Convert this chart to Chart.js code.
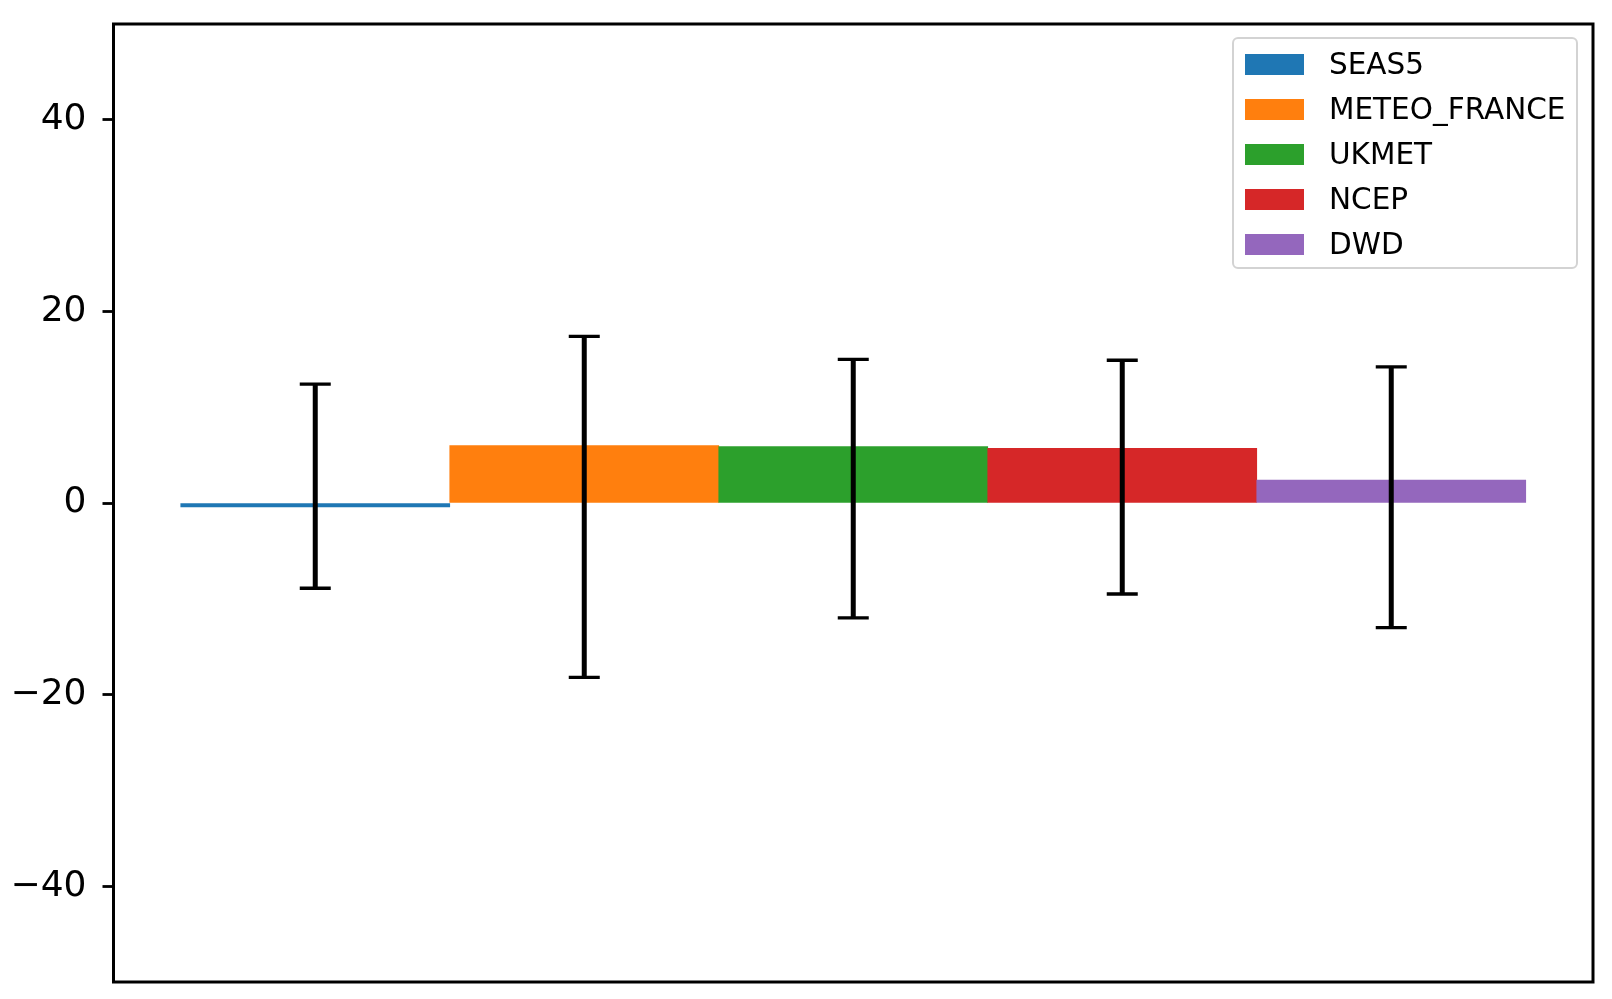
<!DOCTYPE html>
<html>
<head>
<meta charset="utf-8">
<title>Model bars</title>
<script src="https://cdn.jsdelivr.net/npm/chart.js@4/dist/chart.umd.min.js"></script>
<style>
  body { margin: 0; background: #fff; }
  #wrap { position: relative; width: 1612px; height: 999px; }
  #legend {
    position: absolute; left: 1232px; top: 37px; width: 342px; height: 228px;
    border: 2px solid #d3d3d3; border-radius: 6px; background: rgba(255,255,255,0.8);
    font-family: "DejaVu Sans", sans-serif; font-size: 29.5px; color: #000;
  }
  .row { position: absolute; left: 11px; height: 40px; display: flex; align-items: center; }
  .sw { width: 59px; height: 21px; margin-right: 25px; }
</style>
</head>
<body>
<div id="wrap">
  <canvas id="modelChart" width="1612" height="999"></canvas>
  <div id="legend"></div>
</div>
<script>
const models = ["SEAS5", "METEO_FRANCE", "UKMET", "NCEP", "DWD"];
const barColors = ["#1f77b4", "#ff7f0e", "#2ca02c", "#d62728", "#9467bd"];
const meanValues = [-0.4, 6.0, 5.9, 5.7, 2.4];
const errLow = [-8.9, -18.2, -12.0, -9.5, -13.0];
const errHigh = [12.4, 17.4, 15.0, 14.9, 14.2];
const yTicks = [-40, -20, 0, 20, 40];

// legend box, matplotlib style
const legend = document.getElementById("legend");
models.forEach((name, i) => {
    const row = document.createElement("div");
    row.className = "row";
    row.style.top = (5 + 45 * i) + "px";
    row.innerHTML = '<div class="sw" style="background:' + barColors[i] + '"></div><span>' + name + '</span>';
    legend.appendChild(row);
});

const errorBars = {
    id: "errorBars",
    afterDatasetsDraw(chart) {
        const ctx = chart.ctx;
        const xs = chart.scales.x, ys = chart.scales.y;
        ctx.save();
        ctx.strokeStyle = "#000";
        for (let i = 0; i < models.length; i++) {
            const x = xs.getPixelForValue(i);
            const y1 = ys.getPixelForValue(errLow[i]);
            const y2 = ys.getPixelForValue(errHigh[i]);
            ctx.lineWidth = 5;
            ctx.beginPath();
            ctx.moveTo(x, y1); ctx.lineTo(x, y2);
            ctx.stroke();
            ctx.lineWidth = 3.3;
            ctx.beginPath();
            ctx.moveTo(x - 15.5, y1); ctx.lineTo(x + 15.5, y1);
            ctx.moveTo(x - 15.5, y2); ctx.lineTo(x + 15.5, y2);
            ctx.stroke();
        }
        ctx.restore();
    }
};

const frame = {
    id: "frame",
    afterDraw(chart) {
        const a = chart.chartArea;
        const ctx = chart.ctx;
        ctx.save();
        ctx.strokeStyle = "#000";
        ctx.lineWidth = 3;
        ctx.strokeRect(a.left, a.top, a.right - a.left, a.bottom - a.top);
        ctx.restore();
    }
};

new Chart(document.getElementById("modelChart").getContext("2d"), {
    type: "bar",
    data: {
        datasets: [{
            label: "mean",
            data: meanValues.map((v, i) => ({ x: i, y: v })),
            backgroundColor: barColors,
            borderWidth: 0,
            barPercentage: 1,
            categoryPercentage: 1
        }]
    },
    options: {
        responsive: false,
        animation: false,
        layout: { padding: { top: 24, right: 19, bottom: 17, left: 0 } },
        plugins: { legend: { display: false }, tooltip: { enabled: false } },
        scales: {
            x: {
                type: "linear",
                min: -0.75,
                max: 4.75,
                offset: false,
                display: false,
                afterBuildTicks: s => { s.ticks = models.map((m, i) => ({ value: i })); }
            },
            y: {
                min: -50,
                max: 50,
                afterFit: s => {
                    s.width = 113.5;
                    s.paddingTop = 0;
                    s.paddingBottom = 0;
                },
                afterBuildTicks: s => { s.ticks = yTicks.map(v => ({ value: v })); },
                border: { display: false },
                grid: {
                    drawOnChartArea: false,
                    drawTicks: true,
                    tickLength: 11,
                    tickWidth: 2.8,
                    tickColor: "#000"
                },
                ticks: {
                    padding: 16,
                    color: "#000",
                    font: { family: "DejaVu Sans", size: 36 },
                    callback: v => v < 0 ? "\u2212" + Math.abs(v) : String(v)
                }
            }
        }
    },
    plugins: [errorBars, frame]
});
</script>
</body>
</html>
